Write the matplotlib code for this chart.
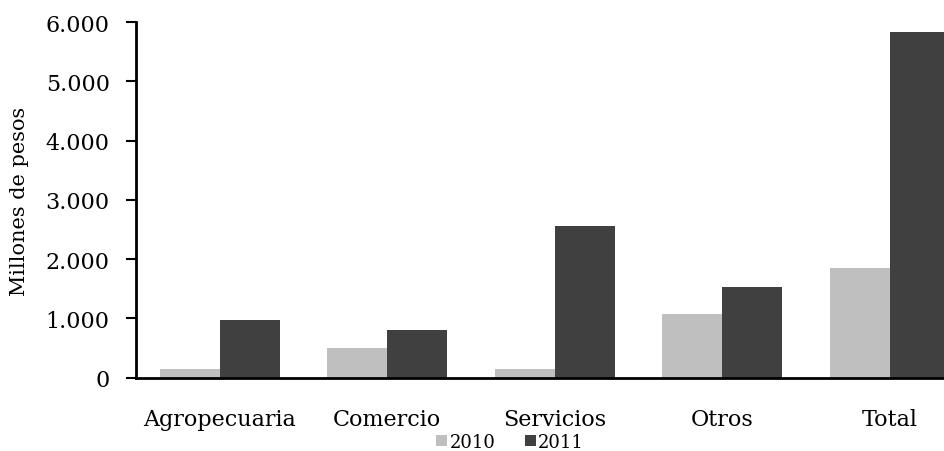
import numpy as np
import matplotlib.pyplot as plt
from matplotlib.ticker import FuncFormatter

categorias = ['Agropecuaria', 'Comercio', 'Servicios', 'Otros', 'Total']
valores_2010 = [150, 500, 150, 1080, 1860]
valores_2011 = [980, 800, 2560, 1530, 5840]
colores = {'2010': '#bfbfbf', '2011': '#404040'}

plt.rcParams['font.family'] = ['DejaVu Serif']

fig = plt.figure(figsize=(9.45, 4.52), dpi=100)
ax = fig.add_axes([0.144, 0.162, 0.886, 0.787])

x = np.arange(len(categorias))
w = 0.358
ax.bar(x - w / 2, valores_2010, w, color=colores['2010'], label='2010')
ax.bar(x + w / 2, valores_2011, w, color=colores['2011'], label='2011')

ax.set_xlim(-0.5, len(categorias) - 0.5)
ax.set_ylim(0, 6000)
ax.set_yticks(range(0, 6001, 1000))
ax.yaxis.set_major_formatter(FuncFormatter(lambda v, p: f'{int(v):,}'.replace(',', '.')))
ax.set_xticks(x)
ax.set_xticklabels(categorias)

for s in ['top', 'right']:
    ax.spines[s].set_visible(False)
for s in ['left', 'bottom']:
    ax.spines[s].set_linewidth(2)
ax.tick_params(axis='y', length=7, width=1.5, labelsize=16, pad=12)
ax.tick_params(axis='x', length=0, labelsize=16, pad=22)
ax.set_ylabel('Millones de pesos', fontsize=15, labelpad=12)

ax.legend(loc='center', bbox_to_anchor=(0.54, 1 - 443 / 452), ncol=2, frameon=False,
          fontsize=13, handlelength=0.6, handleheight=0.6, handletextpad=0.15, columnspacing=1.6,
          borderpad=0, bbox_transform=fig.transFigure)

fig.savefig('out.png', dpi=100)
